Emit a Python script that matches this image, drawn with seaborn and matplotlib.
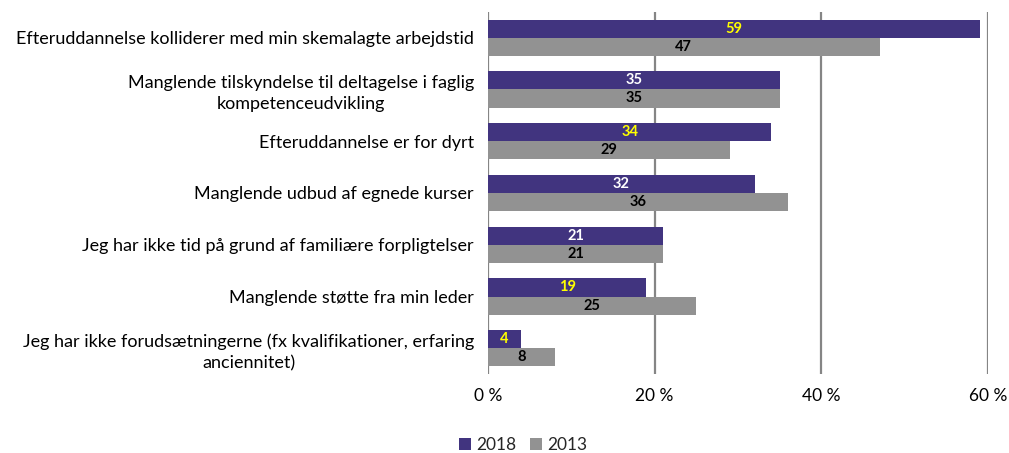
import matplotlib
matplotlib.use("Agg")
import matplotlib.pyplot as plt
import seaborn as sns
import pandas as pd

categories = [
    "Efteruddannelse kolliderer med min skemalagte arbejdstid",
    "Manglende tilskyndelse til deltagelse i faglig\nkompetenceudvikling",
    "Efteruddannelse er for dyrt",
    "Manglende udbud af egnede kurser",
    "Jeg har ikke tid på grund af familiære forpligtelser",
    "Manglende støtte fra min leder",
    "Jeg har ikke forudsætningerne (fx kvalifikationer, erfaring\nanciennitet)",
]
values_2018 = [59, 35, 34, 32, 21, 19, 4]
values_2013 = [47, 35, 29, 36, 21, 25, 8]
label_colors_2018 = ["#FFFF00", "#FFFFFF", "#FFFF00", "#FFFFFF", "#FFFFFF", "#FFFF00", "#FFFF00"]
years = ["2018", "2013"]
xticks = [0, 20, 40, 60]
xtick_labels = ["0 %", "20 %", "40 %", "60 %"]

df = pd.DataFrame({
    "Årsag": categories * 2,
    "Andel": values_2018 + values_2013,
    "År": ["2018"] * len(categories) + ["2013"] * len(categories),
})

sns.set_theme(style="white")
plt.rcParams["font.family"] = ["Lato", "DejaVu Sans"]

fig = plt.figure(figsize=(10.09, 4.53), dpi=100)
ax = fig.add_axes([0.4836, 0.174, 0.4955, 0.8])

palette = {"2018": "#41347F", "2013": "#929292"}
sns.barplot(data=df, y="Årsag", x="Andel", hue="År", hue_order=years,
            order=categories, palette=palette, orient="h", width=0.7,
            saturation=1, ax=ax, legend=True, edgecolor="none")

ax.set_xlim(0, 60)
ax.set_xticks(xticks)
ax.set_xticklabels(xtick_labels, fontsize=12.5)
ax.set_xlabel("")
ax.set_ylabel("")
ax.tick_params(axis="y", labelsize=13, length=0, pad=10, colors="#000000")
ax.tick_params(axis="x", length=0, pad=10, colors="#000000")
# right-aligned category labels, wrapped lines centred on each other
for lbl in ax.get_yticklabels():
    lbl.set_horizontalalignment("right")
    lbl.set_multialignment("center")
    lbl.set_linespacing(1.4)

ax.grid(axis="x", color="#858585", linewidth=1.6)
ax.set_axisbelow(True)
for s in ax.spines.values():
    s.set_visible(False)

bars_2018, bars_2013 = ax.containers[0], ax.containers[1]
labels = ax.bar_label(bars_2018, labels=[str(v) for v in values_2018],
                      label_type="center", fontsize=10.5, fontweight="bold")
for t, c in zip(labels, label_colors_2018):
    t.set_color(c)
ax.bar_label(bars_2013, labels=[str(v) for v in values_2013],
             label_type="center", fontsize=10.5, fontweight="bold", color="#000000")

ax.legend(loc="upper center", bbox_to_anchor=(0.07, -0.13), ncol=2, frameon=False,
          fontsize=12.5, handlelength=0.7, handleheight=0.7, handletextpad=0.3,
          columnspacing=0.8)

fig.savefig("out.png", dpi=100)
